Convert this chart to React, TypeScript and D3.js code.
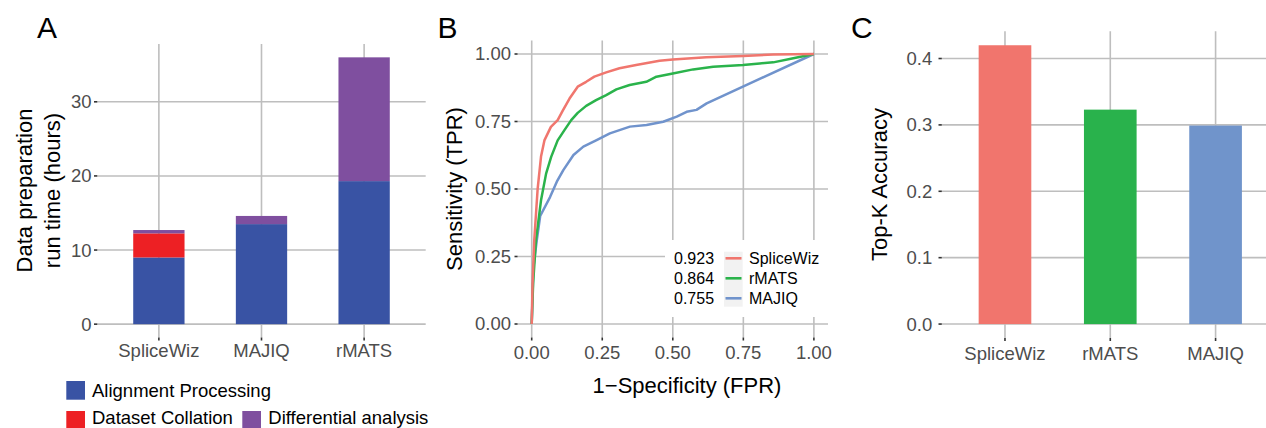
import React from "react";
import * as d3 from "d3";

// ---------- Panel A data ----------
const toolsA = ["SpliceWiz", "MAJIQ", "rMATS"];
const stageKeys = ["Alignment Processing", "Dataset Collation", "Differential analysis"];
const alignmentHours = [9.0, 13.5, 19.3];
const collationHours = [3.25, 0, 0];
const differentialHours = [0.45, 1.1, 16.7];
const ticksA = [0, 10, 20, 30];
const stageColors = ["#3953A4", "#ED2024", "#7F4F9F"];

// ---------- Panel B data ----------
const rocSpliceWiz: [number, number][] = [
  [0, 0], [0.003, 0.15], [0.009, 0.31], [0.021, 0.5], [0.033, 0.62], [0.045, 0.68], [0.068, 0.73],
  [0.092, 0.755], [0.11, 0.79], [0.134, 0.835], [0.163, 0.879], [0.193, 0.897], [0.222, 0.916],
  [0.264, 0.932], [0.311, 0.947], [0.37, 0.959], [0.453, 0.975], [0.5, 0.98], [0.619, 0.988],
  [0.749, 0.993], [0.856, 0.998], [1, 1],
];
const rocRMATS: [number, number][] = [
  [0, 0], [0.005, 0.15], [0.015, 0.31], [0.033, 0.458], [0.051, 0.557], [0.069, 0.619], [0.092, 0.68],
  [0.116, 0.718], [0.14, 0.755], [0.163, 0.782], [0.193, 0.808], [0.228, 0.829], [0.264, 0.848],
  [0.3, 0.869], [0.347, 0.885], [0.406, 0.897], [0.442, 0.916], [0.5, 0.928], [0.572, 0.943],
  [0.643, 0.953], [0.749, 0.959], [0.808, 0.965], [0.856, 0.969], [0.927, 0.984], [1, 1],
];
const rocMAJIQ: [number, number][] = [
  [0, 0], [0.006, 0.21], [0.018, 0.31], [0.03, 0.4], [0.065, 0.47], [0.089, 0.527], [0.112, 0.57],
  [0.148, 0.626], [0.183, 0.657], [0.23, 0.681], [0.277, 0.706], [0.348, 0.731], [0.407, 0.737],
  [0.466, 0.749], [0.514, 0.768], [0.549, 0.786], [0.584, 0.793], [0.62, 0.817], [1, 1],
];
const rocNames = ["SpliceWiz", "rMATS", "MAJIQ"];
const rocAUC = ["0.923", "0.864", "0.755"];
const rocColors = ["#F0766E", "#2AB34B", "#7093CC"];
const ticksB = [0, 0.25, 0.5, 0.75, 1];

// ---------- Panel C data ----------
const toolsC = ["SpliceWiz", "rMATS", "MAJIQ"];
const topKAccuracy = [0.42, 0.323, 0.299];
const ticksC = [0, 0.1, 0.2, 0.3, 0.4];
const barColorsC = ["#F1756D", "#29B24C", "#7094CB"];

const FONT = "'Liberation Sans', Arial, Helvetica, sans-serif";
const GRID = "#BEBEBE";
const GW = 1.6;
const TICKC = "#333333";
const LABC = "#4D4D4D";
const TICKFS = 18.5;
const TITLEFS = 22;

export default function App() {
  // Panel A scales
  const xA = d3.scaleBand<string>().domain(toolsA).range([97.3, 425.7]).paddingInner(0.5).paddingOuter(0.35);
  const yA = d3.scaleLinear().domain([-1.8, 37.8]).range([337.5, 44]);
  const tableA = toolsA.map((t, i) => ({
    tool: t,
    [stageKeys[0]]: alignmentHours[i],
    [stageKeys[1]]: collationHours[i],
    [stageKeys[2]]: differentialHours[i],
  }));
  const stackA = d3.stack<any>().keys(stageKeys)(tableA);

  // Panel B scales
  const xB = d3.scaleLinear().domain([-0.05, 1.05]).range([517.6, 828]);
  const yB = d3.scaleLinear().domain([-0.05, 1.05]).range([337.5, 40.5]);
  const line = d3.line<[number, number]>().x((d) => xB(d[0])).y((d) => yB(d[1]));
  const rocs = [rocSpliceWiz, rocRMATS, rocMAJIQ];

  // Panel C scales
  const xC = d3.scaleBand<string>().domain(toolsC).range([941.8, 941.8 + 3.2 * 105.3]).paddingInner(0.5).paddingOuter(0.35);
  const yC = d3.scaleLinear().domain([-0.021, 0.441]).range([338, 31.3]);

  const legRowsB = [258.3, 278.3, 298.3];

  return (
    <svg width={1266} height={428} style={{ position: "absolute", left: 0, top: 0, fontFamily: FONT }}>
      <rect x={0} y={0} width={1266} height={428} fill="#fff" />

      {/* ================= Panel A ================= */}
      <text x={37} y={38.3} fontSize={30} fill="#000">A</text>
      {ticksA.map((t) => (
        <g key={"ga" + t}>
          <line x1={97.3} x2={425.7} y1={yA(t)} y2={yA(t)} stroke={GRID} strokeWidth={GW} />
          <line x1={94} x2={97.3} y1={yA(t)} y2={yA(t)} stroke={TICKC} strokeWidth={GW} />
          <text x={91.5} y={yA(t)} dy="0.35em" textAnchor="end" fontSize={TICKFS} fill={LABC}>{t}</text>
        </g>
      ))}
      {toolsA.map((t) => {
        const cx = (xA(t) as number) + xA.bandwidth() / 2;
        return (
          <g key={"va" + t}>
            <line x1={cx} x2={cx} y1={44} y2={337.5} stroke={GRID} strokeWidth={GW} />
            <line x1={cx} x2={cx} y1={337.5} y2={340.5} stroke={TICKC} strokeWidth={GW} />
            <text x={cx} y={357.3} textAnchor="middle" fontSize={TICKFS} fill={LABC}>{t}</text>
          </g>
        );
      })}
      {stackA.map((layer, li) => (
        <g key={"sa" + li} fill={stageColors[li]}>
          {layer.map((d, i) =>
            d[1] - d[0] > 0 ? (
              <rect key={i} x={xA(toolsA[i])} width={xA.bandwidth()} y={yA(d[1])} height={yA(d[0]) - yA(d[1])} />
            ) : null
          )}
        </g>
      ))}
      <text transform="translate(31.5,190.5) rotate(-90)" textAnchor="middle" fontSize={TITLEFS} fill="#000">
        Data preparation
      </text>
      <text transform="translate(59.5,190.5) rotate(-90)" textAnchor="middle" fontSize={TITLEFS} fill="#000">
        run time (hours)
      </text>
      {/* Legend A */}
      <rect x={66.3} y={381} width={18.7} height={18.7} fill={stageColors[0]} />
      <text x={92} y={396.5} fontSize={18.5} fill="#000">{stageKeys[0]}</text>
      <rect x={66.3} y={411} width={18.7} height={18.7} fill={stageColors[1]} />
      <text x={92} y={424} fontSize={18.5} fill="#000">{stageKeys[1]}</text>
      <rect x={242.3} y={411} width={18.7} height={18.7} fill={stageColors[2]} />
      <text x={268.3} y={424} fontSize={18.5} fill="#000">{stageKeys[2]}</text>

      {/* ================= Panel B ================= */}
      <text x={437.5} y={38.3} fontSize={30} fill="#000">B</text>
      {ticksB.map((t) => (
        <g key={"gb" + t}>
          <line x1={517.6} x2={828} y1={yB(t)} y2={yB(t)} stroke={GRID} strokeWidth={GW} />
          <line x1={514.5} x2={517.6} y1={yB(t)} y2={yB(t)} stroke={TICKC} strokeWidth={GW} />
          <text x={511} y={yB(t)} dy="0.35em" textAnchor="end" fontSize={TICKFS} fill={LABC}>{t.toFixed(2)}</text>
          <line x1={xB(t)} x2={xB(t)} y1={40.5} y2={337.5} stroke={GRID} strokeWidth={GW} />
          <line x1={xB(t)} x2={xB(t)} y1={337.5} y2={340.5} stroke={TICKC} strokeWidth={GW} />
          <text x={xB(t)} y={359} textAnchor="middle" fontSize={TICKFS} fill={LABC}>{t.toFixed(2)}</text>
        </g>
      ))}
      {rocs.map((r, i) => (
        <path key={"roc" + i} d={line(r) as string} fill="none" stroke={rocColors[i]} strokeWidth={2.5} strokeLinejoin="round" />
      )).reverse()}
      {/* Legend B */}
      <rect x={665} y={240} width={163} height={77} fill="#fff" />
      <rect x={724} y={251.7} width={18.7} height={55} fill="#F2F2F2" />
      {rocNames.map((n, i) => (
        <g key={"lb" + n}>
          <line x1={725.5} x2={741.5} y1={legRowsB[i]} y2={legRowsB[i]} stroke={rocColors[i]} strokeWidth={2.6} />
          <text x={674} y={legRowsB[i] + 6} fontSize={16} fill="#000">{rocAUC[i]}</text>
          <text x={749} y={legRowsB[i] + 6} fontSize={16} fill="#000">{n}</text>
        </g>
      ))}
      <text transform="translate(462,189) rotate(-90)" textAnchor="middle" fontSize={TITLEFS} fill="#000">
        Sensitivity (TPR)
      </text>
      <text x={687} y={392.5} textAnchor="middle" fontSize={TITLEFS} fill="#000">1−Specificity (FPR)</text>

      {/* ================= Panel C ================= */}
      <text x={851} y={38.3} fontSize={30} fill="#000">C</text>
      {ticksC.map((t) => (
        <g key={"gc" + t}>
          <line x1={941.8} x2={1266} y1={yC(t)} y2={yC(t)} stroke={GRID} strokeWidth={GW} />
          <line x1={938.5} x2={941.8} y1={yC(t)} y2={yC(t)} stroke={TICKC} strokeWidth={GW} />
          <text x={932.3} y={yC(t)} dy="0.35em" textAnchor="end" fontSize={TICKFS} fill={LABC}>{t.toFixed(1)}</text>
        </g>
      ))}
      {toolsC.map((t, i) => {
        const cx = (xC(t) as number) + xC.bandwidth() / 2;
        return (
          <g key={"vc" + t}>
            <line x1={cx} x2={cx} y1={31.3} y2={338} stroke={GRID} strokeWidth={GW} />
            <line x1={cx} x2={cx} y1={338} y2={341} stroke={TICKC} strokeWidth={GW} />
            <text x={cx} y={360} textAnchor="middle" fontSize={TICKFS} fill={LABC}>{t}</text>
            <rect x={xC(t)} width={xC.bandwidth()} y={yC(topKAccuracy[i])} height={yC(0) - yC(topKAccuracy[i])} fill={barColorsC[i]} />
          </g>
        );
      })}
      <text transform="translate(886.5,184.5) rotate(-90)" textAnchor="middle" fontSize={TITLEFS} fill="#000">
        Top-K Accuracy
      </text>
    </svg>
  );
}
